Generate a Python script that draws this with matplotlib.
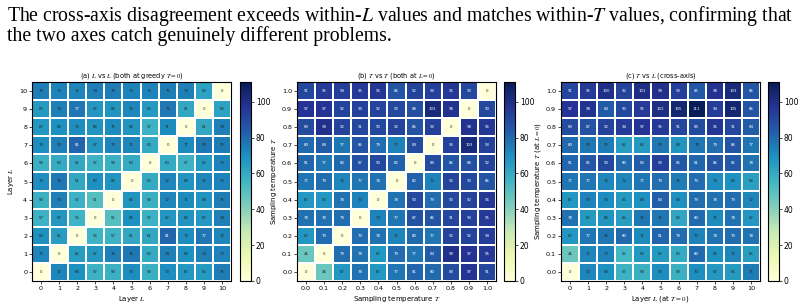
import numpy as np
import matplotlib
matplotlib.use("Agg")
import matplotlib.pyplot as plt
from matplotlib import colors as mcolors

# Layer index 0..10, temperature 0.0..1.0
layers = [str(i) for i in range(11)]
temps = ["0.0", "0.1", "0.2", "0.3", "0.4", "0.5", "0.6", "0.7", "0.8", "0.9", "1.0"]

# rows listed bottom (index 0) to top (index 10)
l_vs_l = [
    [0, 72, 69, 57, 58, 70, 58, 70, 67, 66, 75],
    [72, 0, 65, 67, 74, 76, 60, 74, 69, 74, 73],
    [69, 65, 0, 56, 57, 61, 61, 81, 70, 77, 72],
    [57, 67, 56, 0, 51, 69, 57, 67, 68, 67, 74],
    [58, 74, 57, 51, 0, 68, 58, 72, 71, 68, 75],
    [70, 76, 61, 69, 68, 0, 60, 72, 68, 72, 73],
    [58, 60, 61, 57, 58, 60, 0, 60, 57, 66, 73],
    [70, 74, 81, 67, 72, 72, 60, 0, 71, 76, 75],
    [67, 69, 70, 68, 71, 68, 57, 71, 0, 61, 74],
    [66, 74, 77, 67, 68, 72, 66, 76, 61, 0, 63],
    [75, 73, 72, 74, 75, 73, 73, 75, 74, 63, 0],
]

t_vs_t = [
    [0, 46, 67, 78, 67, 77, 81, 80, 89, 97, 91],
    [46, 0, 79, 78, 67, 79, 77, 84, 99, 97, 95],
    [67, 79, 0, 79, 78, 72, 80, 77, 92, 92, 94],
    [78, 78, 79, 0, 73, 77, 87, 86, 91, 93, 95],
    [67, 67, 78, 73, 0, 78, 90, 79, 90, 92, 96],
    [77, 79, 72, 77, 78, 0, 82, 73, 92, 90, 86],
    [81, 77, 80, 87, 90, 82, 0, 89, 86, 88, 92],
    [80, 84, 77, 86, 79, 73, 89, 0, 93, 103, 93],
    [89, 99, 92, 91, 90, 92, 86, 93, 0, 98, 96],
    [97, 97, 92, 93, 92, 90, 88, 103, 98, 0, 90],
    [91, 95, 94, 95, 96, 86, 92, 93, 96, 90, 0],
]

t_vs_l = [
    [0, 72, 69, 57, 58, 70, 58, 70, 67, 66, 75],
    [46, 72, 73, 55, 66, 66, 60, 80, 69, 72, 65],
    [67, 77, 76, 80, 71, 81, 79, 73, 78, 79, 78],
    [78, 66, 68, 65, 76, 76, 62, 80, 71, 78, 67],
    [67, 73, 70, 66, 69, 83, 69, 79, 78, 79, 72],
    [77, 77, 72, 72, 77, 79, 75, 79, 70, 69, 64],
    [81, 85, 90, 80, 83, 93, 85, 81, 86, 85, 78],
    [80, 76, 75, 65, 66, 76, 68, 76, 79, 86, 77],
    [89, 87, 92, 94, 97, 95, 91, 89, 96, 91, 84],
    [97, 98, 84, 90, 95, 101, 105, 111, 94, 105, 86],
    [91, 95, 100, 92, 101, 99, 93, 85, 98, 103, 86],
]

panels = [
    (l_vs_l, layers, layers, "(a) $L$ vs $L$ (both at greedy $T=0$)", "Layer $L$", "Layer $L$"),
    (t_vs_t, temps, temps, "(b) $T$ vs $T$ (both at $L=0$)",
     "Sampling temperature $T$", "Sampling temperature $T$"),
    (t_vs_l, layers, temps, "(c) $T$ vs $L$ (cross-axis)",
     "Layer $L$ (at $T=0$)", "Sampling temperature $T$ (at $L=0$)"),
]

vmax = max(max(max(r) for r in p[0]) for p in panels)
norm = mcolors.Normalize(vmin=0, vmax=vmax)
cmap = plt.get_cmap("YlGnBu")

fig = plt.figure(figsize=(8.05, 3.06), dpi=100)

caption = ("The cross-axis disagreement exceeds within-$L$ values and matches within-$T$ values, confirming that\n"
           "the two axes catch genuinely different problems.")
plt.rcParams["mathtext.fontset"] = "stix"
fig.text(7 / 805, 1 - 4 / 306, caption, family="Liberation Serif", fontsize=14.2,
         va="top", ha="left", linespacing=0.86)

heat_left = [32, 297, 561]
cbar_left = [240, 504, 768]
W, H = 805, 306

for (vals, xt, yt, title, xlabel, ylabel), hl, cl in zip(panels, heat_left, cbar_left):
    data = np.array(vals, dtype=float)
    ax = fig.add_axes([hl / W, 25 / H, 199 / W, 199 / H])
    cax = fig.add_axes([cl / W, 25 / H, 11 / W, 199 / H])
    with plt.rc_context({"mathtext.fontset": "dejavusans"}):
        mesh = ax.pcolormesh(data, cmap=cmap, norm=norm, edgecolors="white", linewidth=0.2)
        n = data.shape[0]
        for i in range(n):
            for j in range(n):
                r, g, b, _ = cmap(norm(data[i, j]))
                lum = 0.2126 * r + 0.7152 * g + 0.0722 * b
                ax.text(j + 0.5, i + 0.5, f"{int(data[i, j])}", ha="center", va="center",
                        fontsize=2.8, color="#262626" if lum > 0.408 else "white")
        ax.set_xticks(np.arange(n) + 0.5)
        ax.set_xticklabels(xt)
        ax.set_yticks(np.arange(n) + 0.5)
        ax.set_yticklabels(yt)
        ax.tick_params(labelsize=4.6, length=2, width=0.5, pad=1.5)
        ax.set_title(title, fontsize=4.8, pad=3)
        ax.set_xlabel(xlabel, fontsize=5, labelpad=2)
        ax.set_ylabel(ylabel, fontsize=5, labelpad=2)
        for s in ax.spines.values():
            s.set_linewidth(0.8)
        cb = fig.colorbar(mesh, cax=cax)
        cb.set_ticks([0, 20, 40, 60, 80, 100])
        cb.ax.tick_params(labelsize=5.5, length=2, width=0.5, pad=1.5)
        cb.outline.set_linewidth(0.8)

fig.savefig("out.png", dpi=100)
